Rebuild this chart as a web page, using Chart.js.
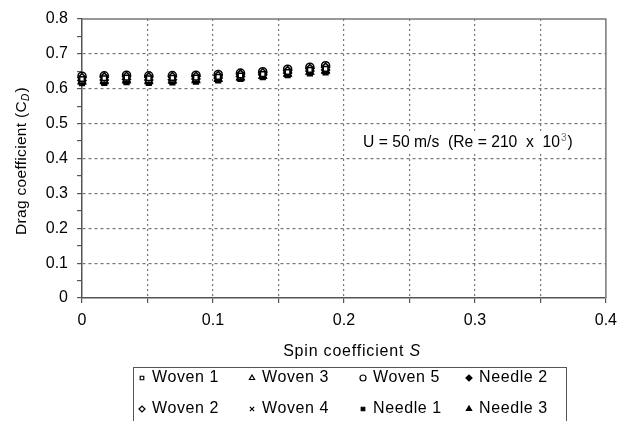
<!DOCTYPE html>
<html>
<head>
<meta charset="utf-8">
<script src="https://cdn.jsdelivr.net/npm/chart.js"></script>
<style>
  body { margin: 0; background: #fff; }
  #wrap { width: 625px; height: 421px; position: relative; }
</style>
</head>
<body>
<div id="wrap"><canvas id="chart" width="625" height="421"></canvas></div>
<script>
// spin coefficient S for each measured point
const spinValues = [0, 0.017, 0.034, 0.051, 0.069, 0.087, 0.104, 0.121, 0.138, 0.157, 0.174, 0.186];

// drag coefficient CD per ball
const woven1 = [0.628, 0.630, 0.632, 0.630, 0.631, 0.632, 0.634, 0.638, 0.642, 0.648, 0.654, 0.657];
const woven2 = [0.632, 0.634, 0.636, 0.634, 0.635, 0.636, 0.638, 0.642, 0.646, 0.652, 0.658, 0.662];
const woven3 = [0.622, 0.624, 0.626, 0.624, 0.625, 0.626, 0.629, 0.633, 0.637, 0.643, 0.649, 0.652];
const woven4 = [0.618, 0.620, 0.622, 0.620, 0.621, 0.622, 0.626, 0.630, 0.635, 0.641, 0.646, 0.650];
const woven5 = [0.636, 0.637, 0.639, 0.637, 0.638, 0.639, 0.641, 0.645, 0.649, 0.656, 0.662, 0.666];
const needle1 = [0.616, 0.617, 0.619, 0.617, 0.618, 0.620, 0.624, 0.628, 0.633, 0.639, 0.644, 0.647];
const needle2 = [0.624, 0.625, 0.627, 0.625, 0.626, 0.628, 0.631, 0.635, 0.640, 0.645, 0.651, 0.654];
const needle3 = [0.619, 0.621, 0.623, 0.621, 0.622, 0.624, 0.627, 0.631, 0.636, 0.642, 0.648, 0.651];

const seriesNames = ['Woven 1', 'Woven 2', 'Woven 3', 'Woven 4', 'Woven 5', 'Needle 1', 'Needle 2', 'Needle 3'];
const seriesValues = [woven1, woven2, woven3, woven4, woven5, needle1, needle2, needle3];
const seriesStyles = ['rect', 'rectRot', 'triangle', 'crossRot', 'circle', 'rect', 'rectRot', 'triangle'];
const seriesFilled = [false, false, false, false, false, true, true, true];

const FONT = 'Liberation Sans, Arial, sans-serif';

const datasets = seriesNames.map((name, i) => ({
  label: name,
  data: spinValues.map((s, j) => ({ x: s, y: seriesValues[i][j] })),
  pointStyle: seriesStyles[i],
  pointRadius: seriesStyles[i] === 'rect' ? 3.3 : 4,
  pointBorderWidth: 1.5,
  pointBorderColor: '#000',
  pointBackgroundColor: seriesFilled[i] ? '#000' : '#fff',
  showLine: false,
  clip: false
}));

function isTenth(v) {
  return Math.abs(v * 10 - Math.round(v * 10)) < 1e-6;
}

// legend laid out like the original: two rows, filled column by column
const legendCols = [142, 252, 363, 469];
const legendRows = [378, 409];

const extras = {
  id: 'extras',
  beforeDatasetsDraw(chart) {
    const { ctx, chartArea: a } = chart;
    ctx.save();
    ctx.strokeStyle = '#777';
    ctx.lineWidth = 1.5;
    ctx.beginPath();
    ctx.moveTo(a.left, a.top);
    ctx.lineTo(a.right, a.top);
    ctx.lineTo(a.right, a.bottom);
    ctx.stroke();

    // flow condition note, on a white patch that hides the grid
    ctx.fillStyle = '#fff';
    ctx.fillRect(359, 134, 219, 19);
    ctx.fillStyle = '#000';
    ctx.textBaseline = 'middle';
    ctx.textAlign = 'left';
    ctx.font = '15.7px ' + FONT;
    const n1 = 'U = 50 m/s  (Re = 210  x  10';
    ctx.fillText(n1, 363, 143);
    const wn1 = ctx.measureText(n1).width;
    ctx.fillStyle = '#777';
    ctx.font = '10px ' + FONT;
    ctx.fillText('3', 364 + wn1, 138);
    const wn2 = ctx.measureText('3').width;
    ctx.fillStyle = '#000';
    ctx.font = '15.7px ' + FONT;
    ctx.fillText(')', 365 + wn1 + wn2, 143);
    ctx.restore();
  },
  afterDraw(chart) {
    const ctx = chart.ctx;
    ctx.save();
    ctx.fillStyle = '#000';
    ctx.textBaseline = 'middle';
    ctx.textAlign = 'left';

    // y title, rotated, with subscript D
    ctx.save();
    ctx.translate(22, 161);
    ctx.rotate(-Math.PI / 2);
    ctx.letterSpacing = '0.3px';
    ctx.font = '15.5px ' + FONT;
    const t1 = 'Drag coefficient (C';
    const w1 = ctx.measureText(t1).width;
    ctx.font = 'italic 10px ' + FONT;
    const w2 = ctx.measureText('D').width + 1;
    ctx.font = '15.5px ' + FONT;
    const w3 = ctx.measureText(')').width;
    const x = -(w1 + w2 + w3) / 2;
    ctx.fillText(t1, x, 0);
    ctx.font = 'italic 10px ' + FONT;
    ctx.fillText('D', x + w1, 4);
    ctx.font = '15.5px ' + FONT;
    ctx.fillText(')', x + w1 + w2, 0);
    ctx.restore();

    // x title with italic S
    ctx.letterSpacing = '0.8px';
    ctx.font = '16px ' + FONT;
    const s1 = 'Spin coefficient ';
    const ws1 = ctx.measureText(s1).width;
    ctx.font = 'italic 16px ' + FONT;
    const ws2 = ctx.measureText('S').width;
    const sx = 352 - (ws1 + ws2) / 2;
    ctx.font = '16px ' + FONT;
    ctx.fillText(s1, sx, 352);
    ctx.font = 'italic 16px ' + FONT;
    ctx.fillText('S', sx + ws1, 352);

    // legend box
    ctx.strokeStyle = '#555';
    ctx.lineWidth = 1;
    ctx.strokeRect(133.5, 367.5, 433, 70);
    ctx.letterSpacing = '0.6px';
    chart.data.datasets.forEach((ds, i) => {
      const px = legendCols[Math.floor(i / 2)];
      const py = legendRows[i % 2];
      ctx.fillStyle = ds.pointBackgroundColor;
      ctx.strokeStyle = '#000';
      ctx.lineWidth = 1.2;
      Chart.helpers.drawPoint(ctx, {
        pointStyle: ds.pointStyle,
        radius: ds.pointStyle === 'rect' ? 2.5 : 3,
        rotation: 0,
        borderWidth: 1.2
      }, px, py);
      ctx.fillStyle = '#000';
      ctx.font = '16px ' + FONT;
      ctx.fillText(ds.label, px + 10, py);
    });
    ctx.restore();
  }
};

new Chart(document.getElementById('chart'), {
  type: 'scatter',
  data: { datasets },
  plugins: [extras],
  options: {
    responsive: false,
    animation: false,
    layout: { padding: { left: 0, right: 17, top: 19, bottom: 0 } },
    plugins: {
      legend: { display: false },
      tooltip: { enabled: false }
    },
    scales: {
      x: {
        type: 'linear',
        min: 0,
        max: 0.4,
        afterFit: scale => { scale.height = 123; },
        ticks: {
          stepSize: 0.05,
          autoSkip: false,
          maxRotation: 0,
          padding: 8,
          color: '#000',
          font: { family: FONT, size: 16 },
          callback: v => (isTenth(v) ? (v === 0 ? '0' : v.toFixed(1)) : '')
        },
        grid: {
          color: c => (c.tick && c.tick.value > 0 && c.tick.value < 0.4 ? '#777' : 'rgba(0,0,0,0)'),
          lineWidth: 1.2,
          tickLength: 5,
          tickColor: '#555',
          tickBorderDash: []
        },
        border: { color: '#555', width: 1.5, dash: [2, 3] }
      },
      y: {
        min: 0,
        max: 0.8,
        afterFit: scale => { scale.width = 82; },
        ticks: {
          stepSize: 0.05,
          autoSkip: false,
          padding: 9,
          color: '#000',
          font: { family: FONT, size: 16 },
          callback: v => (isTenth(v) ? (v === 0 ? '0' : v.toFixed(1)) : '')
        },
        grid: {
          color: c => (c.tick && isTenth(c.tick.value) && c.tick.value > 0 && c.tick.value < 0.8 ? '#777' : 'rgba(0,0,0,0)'),
          lineWidth: 1.2,
          tickLength: 5,
          tickColor: '#555',
          tickBorderDash: []
        },
        border: { color: '#555', width: 1.5, dash: [3, 3] }
      }
    }
  }
});
</script>
</body>
</html>
